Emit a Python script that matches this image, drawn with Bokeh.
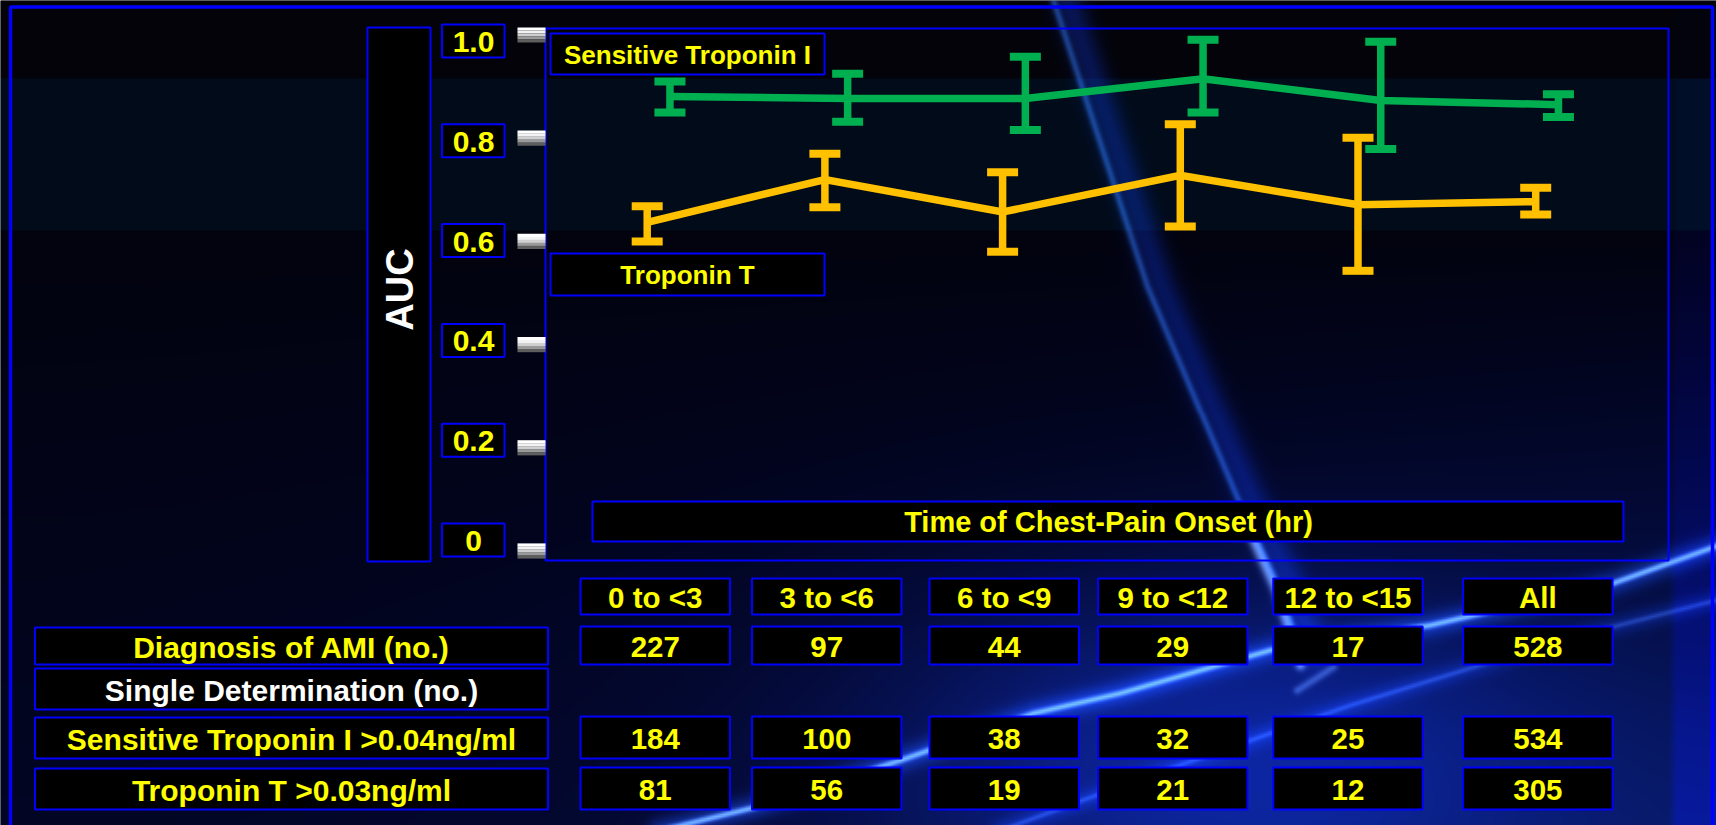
import numpy as np
from bokeh.plotting import figure
from bokeh.models import Range1d, ColumnDataSource
from bokeh.embed import file_html
from bokeh.resources import INLINE
from bokeh.core.properties import value

# ---------------- data ----------------
categories = ["0 to <3", "3 to <6", "6 to <9", "9 to <12", "12 to <15", "All"]
tni_auc = [0.881, 0.877, 0.877, 0.915, 0.873, 0.865]
tni_upper = [0.910, 0.925, 0.958, 0.991, 0.987, 0.885]
tni_lower = [0.850, 0.832, 0.816, 0.850, 0.779, 0.841]
tnt_auc = [0.637, 0.720, 0.657, 0.728, 0.671, 0.677]
tnt_upper = [0.668, 0.770, 0.734, 0.827, 0.801, 0.704]
tnt_lower = [0.600, 0.666, 0.580, 0.629, 0.543, 0.652]
y_ticks = [1.0, 0.8, 0.6, 0.4, 0.2, 0.0]
y_tick_labels = ["1.0", "0.8", "0.6", "0.4", "0.2", "0"]
row_labels = ["Diagnosis of AMI (no.)", "Single Determination (no.)",
              "Sensitive Troponin I >0.04ng/ml", "Troponin T >0.03ng/ml"]
ami_counts = [227, 97, 44, 29, 17, 528]
tni_positive = [184, 100, 38, 32, 25, 534]
tnt_positive = [81, 56, 19, 21, 12, 305]

# ---------------- layout (page pixel coordinates) ----------------
W, H = 1716, 825
AUC0_Y, PX_PER_AUC = 550.5, 516.0
IDX0_X, PX_PER_IDX = 646.7, 177.7
TNI_DODGE = 0.128
FONT = value("Liberation Sans")
BLUE = "#0000FF"
YELLOW = "#FFFF00"
GREEN = "#00B050"
ORANGE = "#FFC000"

p = figure(width=W, height=H, output_backend="svg", toolbar_location=None,
           x_range=Range1d(0, W), y_range=Range1d(H, 0),
           x_axis_type=None, y_axis_type=None, min_border=0,
           background_fill_color="#03030a", border_fill_color="#03030a",
           outline_line_color=None)
p.extra_y_ranges = {
    "auc": Range1d((AUC0_Y - H) / PX_PER_AUC, AUC0_Y / PX_PER_AUC),
    "img": Range1d(0, H),
}
p.extra_x_ranges = {
    "idx": Range1d(-IDX0_X / PX_PER_IDX, (W - IDX0_X) / PX_PER_IDX),
}

# ---------------- background image (decoration) ----------------
hi, wi = 413, 858
yy, xx = np.mgrid[0:hi, 0:wi]
ry = (yy + 0.5) * H / hi
rx = (xx + 0.5) * W / wi
fx = rx / W
r = np.full(ry.shape, 3.0)
g = np.full(ry.shape, 3.0)
b = np.full(ry.shape, 9.0)
band = (ry >= 78) & (ry < 230)
r[band] = 1.0
g[band] = 11.0
b[band] = 25.0
t = np.clip((ry - 230) / (H - 230), 0, 1)
low = ry >= 230
b[low] = (14 + t * (22 + 60 * fx ** 1.5))[low]
g[low] = (3 + t ** 1.5 * (3 + 18 * fx ** 2))[low]
r[low] = (2 + t ** 2 * 5 * fx)[low]
# right margin strip
rs = np.clip((rx - 1668) / 8.0, 0, 1)
b += rs * np.where(band, 14, np.where(low, 20 + 30 * t, 4))
g += rs * np.where(band, 3, 0)
# broad blue glow around the lower beam
dblob = np.hypot((rx - 1230) / 330.0, (ry - 760) / 170.0)
kb = np.exp(-dblob ** 2)
r += 8 * kb
g += 25 * kb
b += 95 * kb


def seg_dist(px, py, pts):
    d = np.full(px.shape, 1e9)
    for (x0, y0), (x1, y1) in zip(pts[:-1], pts[1:]):
        dx, dy = x1 - x0, y1 - y0
        tt = np.clip(((px - x0) * dx + (py - y0) * dy) / (dx * dx + dy * dy), 0, 1)
        d = np.minimum(d, np.hypot(px - (x0 + tt * dx), py - (y0 + tt * dy)))
    return d


def glow(pts, col, inten, s):
    global r, g, b
    d = seg_dist(rx, ry, pts)
    k = inten * np.exp(-(d / s) ** 2)
    r = r + col[0] * k
    g = g + col[1] * k
    b = b + col[2] * k


beam = [(1053, 0), (1147, 286), (1237, 498), (1275, 580), (1300, 650)]
beam_r = [(x + 14, y) for x, y in beam]
glow(beam_r, (8, 30, 120), 0.6, 16)
glow(beam, (40, 95, 175), 0.55, 3.5)
glow([(1250, 535), (1275, 590), (1300, 665)], (150, 185, 220), 0.55, 5)
glow([(1297, 690), (1333, 667)], (120, 160, 200), 0.35, 4)
arc1 = [(660, 830), (750, 808), (900, 760), (1033, 713), (1120, 693),
        (1270, 650), (1430, 625), (1613, 583), (1716, 546)]
glow(arc1, (20, 60, 170), 0.55, 12)
glow(arc1, (150, 205, 245), 0.65, 3)
arc2 = [(1000, 830), (1150, 775), (1350, 705), (1560, 640), (1716, 600)]
glow(arc2, (15, 45, 150), 0.35, 10)
glow(arc2, (90, 140, 210), 0.25, 2.5)

rgb = [np.clip(c, 0, 255).astype(np.uint32) for c in (r, g, b)]
img = (rgb[0] | (rgb[1] << 8) | (rgb[2] << 16) | (np.uint32(255) << 24)).astype(np.uint32)
img = img[::-1].copy()
p.image_rgba(image=[img], x=0, y=0, dw=W, dh=H, y_range_name="img")

# outer slide border
p.quad(left=10, right=1712, top=6.5, bottom=850, fill_color=None,
       line_color=BLUE, line_width=3.5)


def box(l, rr, t_, b_, fill="black"):
    p.quad(left=l, right=rr, top=t_, bottom=b_, fill_color=fill,
           line_color=BLUE, line_width=2)


def txt(x, y, s, size, color=YELLOW, angle=0):
    p.text(x=[x], y=[y], text=[s], text_font=FONT, text_font_style="bold",
           text_font_size=size, text_color=color, text_align="center",
           text_baseline="middle", angle=angle)


# plot frame
p.quad(left=545, right=1668, top=28, bottom=560, fill_color=None,
       line_color=BLUE, line_width=2)

# AUC title box
box(367, 430, 27, 561)
txt(399, 289, "AUC", "38px", color="white", angle=np.pi / 2)

# tick label boxes
for k, lab in enumerate(y_tick_labels):
    cy = 40.5 + 99.8 * k
    box(441.5, 504, cy - 16.5, cy + 16.5)
    txt(473, cy + 1, lab, "30px")

# tick marks (gradient blocks) placed on the AUC scale
shades = ["#ffffff", "#f2f2f2", "#d0d0d0", "#9a9a9a", "#5e5e5e"]
for j, c in enumerate(shades):
    off = (6 - 3 * j) / PX_PER_AUC
    p.rect(x=531, y=[v + off for v in y_ticks], width=28, height=3.2,
           height_units="screen", fill_color=c, line_color=None,
           y_range_name="auc")

# series legends
box(550, 824, 33, 74)
txt(687, 54, "Sensitive Troponin I", "26px")
box(550, 824, 253, 295)
txt(687, 274.5, "Troponin T", "26px")

# x-axis title
box(592, 1623, 501, 541)
txt(1108, 521.5, "Time of Chest-Pain Onset (hr)", "29px")

# ---------------- series ----------------
idx = list(range(len(categories)))
idx_tni = [i + TNI_DODGE for i in idx]

src_tnt = ColumnDataSource(dict(x=idx, y=tnt_auc, upper=tnt_upper, lower=tnt_lower))
src_tni = ColumnDataSource(dict(x=idx_tni, y=tni_auc, upper=tni_upper, lower=tni_lower))

for src, col in ((src_tnt, ORANGE), (src_tni, GREEN)):
    kw = dict(source=src, x_range_name="idx", y_range_name="auc")
    p.line(x="x", y="y", line_width=7.5, line_color=col, line_join="miter", **kw)
    p.segment(x0="x", y0="lower", x1="x", y1="upper", line_width=7.5,
              line_color=col, **kw)
    for end in ("upper", "lower"):
        p.rect(x="x", y=end, width=31, height=8, width_units="screen",
               height_units="screen", fill_color=col, line_color=None, **kw)

# ---------------- table ----------------
col_left = [580, 751.5, 929, 1097.5, 1272.7, 1462.6]
col_w = 149.5
hdr = (578, 614)
rows_y = [(627, 664), (668, 709), (717, 758), (768, 809)]
cell_rows = {0: ami_counts, 2: tni_positive, 3: tnt_positive}

for i, cat in enumerate(categories):
    l = col_left[i]
    box(l, l + col_w, hdr[0], hdr[1])
    txt(l + col_w / 2, (hdr[0] + hdr[1]) / 2 + 1, cat, "29.5px")

for rix, lab in enumerate(row_labels):
    t0, b0 = rows_y[rix]
    box(34.5, 547.5, t0, b0)
    txt(291, (t0 + b0) / 2 + 1, lab, "30px", color="white" if rix == 1 else YELLOW)
    if rix in cell_rows:
        for i, v in enumerate(cell_rows[rix]):
            l = col_left[i]
            box(l, l + col_w, t0 - 1, b0)
            txt(l + col_w / 2, (t0 + b0) / 2 + 1, str(v), "29.5px")

open("out.html", "w").write(file_html(p, INLINE))
